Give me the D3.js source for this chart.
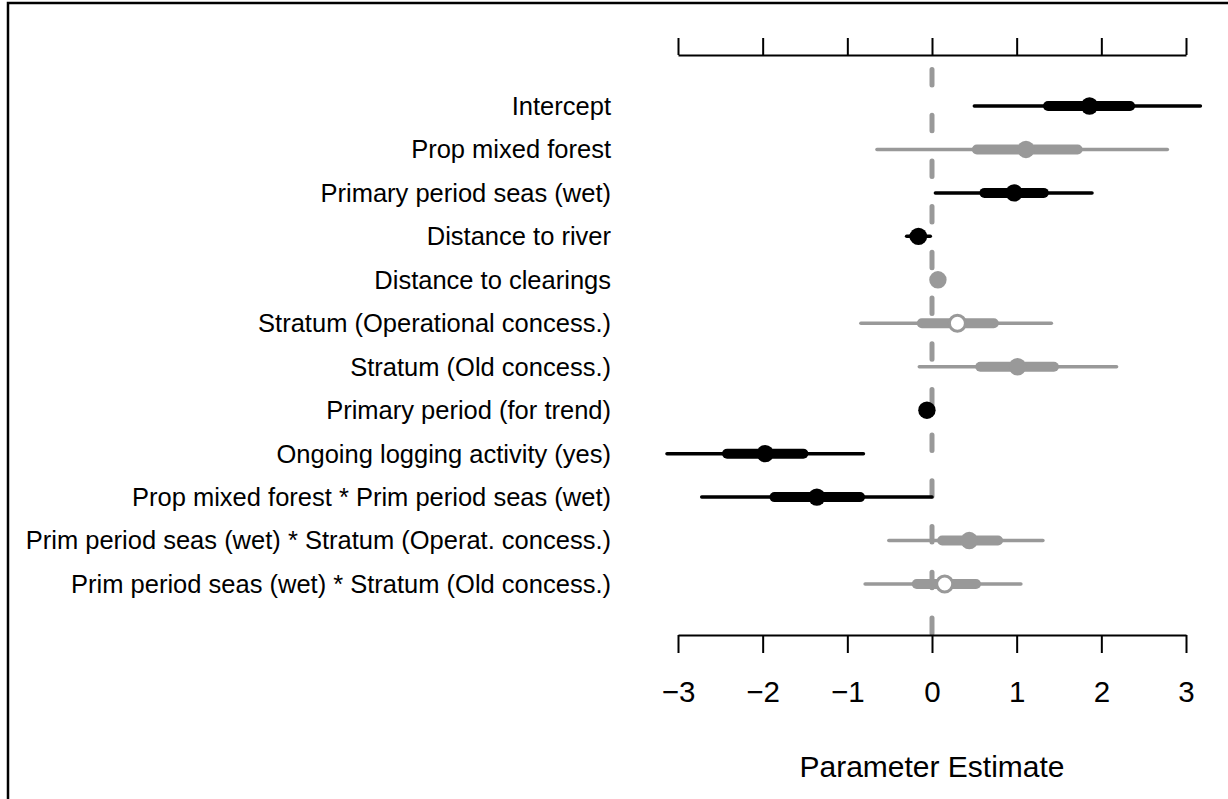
<!DOCTYPE html>
<html lang="en">
    <head>
        <meta charset="utf-8">
        <script src="https://d3js.org/d3.v7.min.js"></script>
        <title>Parameter estimates</title>
        <style>
            body { margin: 0; background: #fff; }
            text { font-family: "Liberation Sans", Arial, Helvetica, sans-serif; }
        </style>
    </head>

    <body>
        <div id="plot-div"></div>
        <script>
            const labels = [
                "Intercept",
                "Prop mixed forest",
                "Primary period seas (wet)",
                "Distance to river",
                "Distance to clearings",
                "Stratum (Operational concess.)",
                "Stratum (Old concess.)",
                "Primary period (for trend)",
                "Ongoing logging activity (yes)",
                "Prop mixed forest * Prim period seas (wet)",
                "Prim period seas (wet) * Stratum (Operat. concess.)",
                "Prim period seas (wet) * Stratum (Old concess.)"
            ]
            const estimate = [1.86, 1.11, 0.97, -0.16, 0.07, 0.30, 1.01, -0.06, -1.97, -1.36, 0.44, 0.15]
            const lo95 = [0.50, -0.65, 0.04, -0.30, 0.04, -0.84, -0.15, -0.09, -3.13, -2.72, -0.51, -0.79]
            const hi95 = [3.17, 2.78, 1.89, -0.02, 0.10, 1.41, 2.18, -0.03, -0.81, 0.00, 1.31, 1.05]
            const lo50 = [1.37, 0.53, 0.62, -0.21, 0.05, -0.12, 0.57, -0.08, -2.42, -1.86, 0.12, -0.18]
            const hi50 = [2.34, 1.72, 1.32, -0.12, 0.09, 0.73, 1.44, -0.04, -1.52, -0.85, 0.78, 0.52]
            // 1 = black (CI excludes zero), 0 = grey
            const signif = [1, 0, 1, 1, 0, 0, 0, 1, 1, 1, 0, 0]
            const openPoint = [0, 0, 0, 0, 0, 1, 0, 0, 0, 0, 0, 1]
            const xTicks = [-3, -2, -1, 0, 1, 2, 3]

            const width = 1228
            const height = 799
            const grey = "#999999"

            const data = labels.map((l, i) => ({
                label: l, est: estimate[i], lo95: lo95[i], hi95: hi95[i],
                lo50: lo50[i], hi50: hi50[i], sig: signif[i], open: openPoint[i]
            }))

            const xScale = d3.scaleLinear()
                .domain([-3, 3])
                .range([678, 1186])

            const yScale = d3.scalePoint()
                .domain(labels)
                .range([106, 584])

            const colour = d => d.sig ? "#000" : grey

            const svg = d3.select("#plot-div")
                .append("svg")
                .attr("width", width)
                .attr("height", height)

            // outer box (right and bottom edges fall outside the picture)
            svg.append("rect")
                .attr("x", 8)
                .attr("y", 3)
                .attr("width", width + 20)
                .attr("height", height + 20)
                .attr("fill", "none")
                .attr("stroke", "#000")
                .attr("stroke-width", 2.5)

            // zero line
            svg.append("line")
                .attr("x1", xScale(0))
                .attr("x2", xScale(0))
                .attr("y1", 69.5)
                .attr("y2", 635)
                .attr("stroke", grey)
                .attr("stroke-width", 5)
                .attr("stroke-linecap", "round")
                .attr("stroke-dasharray", "15.5 30.2")

            const rows = svg.append("g")
                .selectAll("g")
                .data(data)
                .join("g")
                .attr("transform", d => `translate(0,${yScale(d.label)})`)

            rows.append("line")
                .attr("x1", d => xScale(d.lo95))
                .attr("x2", d => xScale(d.hi95))
                .attr("stroke", colour)
                .attr("stroke-width", 3.5)
                .attr("stroke-linecap", "round")

            rows.append("line")
                .attr("x1", d => xScale(d.lo50))
                .attr("x2", d => xScale(d.hi50))
                .attr("stroke", colour)
                .attr("stroke-width", 10)
                .attr("stroke-linecap", "round")

            rows.append("circle")
                .attr("cx", d => xScale(d.est))
                .attr("r", d => d.open ? 8 : 8.7)
                .attr("fill", d => d.open ? "#fff" : colour(d))
                .attr("stroke", d => d.open ? colour(d) : "none")
                .attr("stroke-width", 3)

            rows.append("text")
                .attr("x", 611)
                .attr("dy", "0.35em")
                .attr("text-anchor", "end")
                .attr("font-size", 25.5)
                .attr("fill", "#000")
                .text(d => d.label)

            // top axis, no labels
            svg.append("g")
                .attr("transform", "translate(0,55)")
                .call(d3.axisTop(xScale).tickValues(xTicks).tickSize(17).tickSizeOuter(0).tickFormat(""))
                .call(g => g.selectAll("line, path").attr("stroke", "#000").attr("stroke-width", 2))

            // bottom axis
            svg.append("g")
                .attr("transform", "translate(0,635)")
                .call(d3.axisBottom(xScale).tickValues(xTicks).tickSize(18).tickSizeOuter(0)
                    .tickFormat(d => d < 0 ? "\u2212" + Math.abs(d) : d))
                .call(g => g.selectAll("line, path").attr("stroke", "#000").attr("stroke-width", 2))
                .call(g => g.selectAll("text")
                    .attr("y", 67)
                    .attr("dy", 0)
                    .attr("font-size", 29.5)
                    .attr("fill", "#000")
                    .attr("font-family", "Liberation Sans, Arial, Helvetica, sans-serif"))

            svg.append("text")
                .attr("x", xScale(0))
                .attr("y", 777)
                .attr("text-anchor", "middle")
                .attr("font-size", 30)
                .attr("fill", "#000")
                .text("Parameter Estimate")
        </script>
    </body>
</html>
